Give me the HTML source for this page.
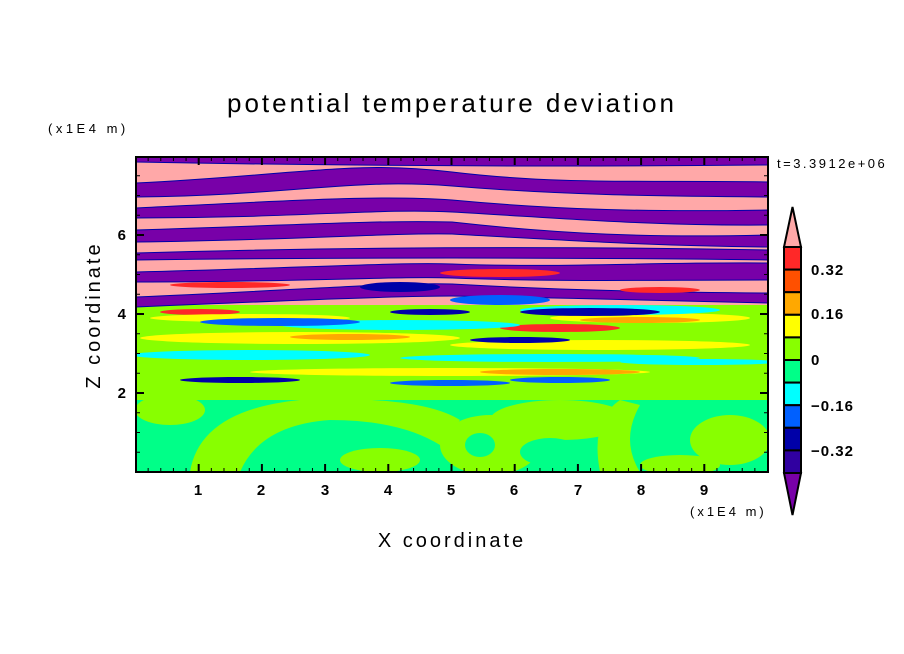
<!DOCTYPE html>
<html><head><meta charset="utf-8"><style>
body{margin:0;background:#fff;}
svg{display:block;font-family:"Liberation Sans",sans-serif;}
</style></head><body>
<svg id="s" width="904" height="654" viewBox="0 0 904 654" xmlns="http://www.w3.org/2000/svg">
<defs><clipPath id="c"><rect x="136" y="157" width="632" height="315"/></clipPath></defs>
<g clip-path="url(#c)">
<rect x="136" y="157" width="632" height="160" fill="#ffa8a8"/>
<rect x="136" y="305" width="632" height="90" fill="#88ff00"/>
<rect x="136" y="392" width="632" height="81" fill="#00ff88"/>
<g fill="#7800a8" stroke="#0000a8" stroke-width="1">
<path d="M136,155 L768,155 L768,165 Q452,168 136,162 Z"/>
<path d="M136,183 C300,175 350,160 452,172 C560,185 650,180 768,182 L768,197 C650,196 560,195 452,186 C350,178 300,195 136,197 Z"/>
<path d="M136,208 C300,200 380,195 452,200 C560,210 650,212 768,210 L768,225 C650,226 560,218 452,212 C380,208 300,218 136,218 Z"/>
<path d="M136,230 C300,225 380,220 452,222 C560,234 650,238 768,235 L768,247 C650,246 560,240 452,234 C380,233 300,240 136,242 Z"/>
<path d="M136,253 Q452,244 768,250 L768,260 Q452,256 136,260 Z"/>
<path d="M136,272 C300,268 400,262 452,264 C560,268 650,262 768,263 L768,280 C650,280 560,282 452,278 C400,276 300,282 136,282 Z"/>
<path d="M136,297 C300,290 400,282 452,284 C560,290 650,292 768,293 L768,303 C650,300 560,298 452,296 C400,296 300,300 136,307 Z"/>
</g>
<g fill="#ff2828">
<ellipse cx="230" cy="285" rx="60" ry="3"/><ellipse cx="500" cy="273" rx="60" ry="4"/>
<ellipse cx="560" cy="328" rx="60" ry="4"/><ellipse cx="200" cy="312" rx="40" ry="3"/>
<ellipse cx="660" cy="290" rx="40" ry="3"/>
</g>
<g fill="#ffff00">
<ellipse cx="300" cy="338" rx="160" ry="6"/><ellipse cx="600" cy="345" rx="150" ry="5"/>
<ellipse cx="450" cy="372" rx="200" ry="4"/><ellipse cx="250" cy="318" rx="100" ry="4"/>
<ellipse cx="650" cy="318" rx="100" ry="5"/>
</g>
<g fill="#ffa800">
<ellipse cx="350" cy="337" rx="60" ry="3"/><ellipse cx="560" cy="372" rx="80" ry="3"/>
<ellipse cx="640" cy="320" rx="60" ry="3"/>
</g>
<g fill="#00ffff">
<ellipse cx="250" cy="355" rx="120" ry="5"/><ellipse cx="550" cy="358" rx="150" ry="4"/>
<ellipse cx="400" cy="325" rx="120" ry="5"/><ellipse cx="700" cy="362" rx="80" ry="3"/>
<ellipse cx="620" cy="310" rx="100" ry="5"/>
</g>
<g fill="#0060ff">
<ellipse cx="280" cy="322" rx="80" ry="4"/><ellipse cx="450" cy="383" rx="60" ry="3"/>
<ellipse cx="560" cy="380" rx="50" ry="3"/><ellipse cx="500" cy="300" rx="50" ry="5"/>
</g>
<g fill="#0000a8">
<ellipse cx="400" cy="287" rx="40" ry="5"/><ellipse cx="590" cy="312" rx="70" ry="4"/>
<ellipse cx="240" cy="380" rx="60" ry="3"/><ellipse cx="520" cy="340" rx="50" ry="3"/>
<ellipse cx="430" cy="312" rx="40" ry="3"/>
</g>
<g fill="#88ff00">
<rect x="136" y="392" width="632" height="8"/>
<ellipse cx="170" cy="410" rx="35" ry="15"/>
<path d="M190,472 Q200,410 300,400 Q420,395 460,420 L440,445 Q400,420 330,420 Q260,425 240,472 Z"/>
<ellipse cx="490" cy="445" rx="50" ry="30"/>
<ellipse cx="560" cy="420" rx="70" ry="20"/>
<path d="M600,472 Q590,420 620,400 L640,405 Q620,440 640,472 Z"/>
<ellipse cx="730" cy="440" rx="40" ry="25"/>
<ellipse cx="680" cy="465" rx="40" ry="10"/>
<ellipse cx="380" cy="460" rx="40" ry="12"/>
</g>
<g fill="#00ff88">
<ellipse cx="550" cy="452" rx="30" ry="14"/><ellipse cx="480" cy="445" rx="15" ry="12"/>
</g>
</g>
<rect x="136" y="157" width="632" height="315" fill="none" stroke="#000" stroke-width="2"/>
<g id="ticks" stroke="#000"></g>
<g font-size="15" fill="#000" text-anchor="middle" font-weight="bold">
<text x="198" y="495">1</text><text x="261" y="495">2</text><text x="325" y="495">3</text>
<text x="388" y="495">4</text><text x="451" y="495">5</text><text x="514" y="495">6</text>
<text x="578" y="495">7</text><text x="641" y="495">8</text><text x="704" y="495">9</text>
</g>
<g font-size="15" fill="#000" text-anchor="end" font-weight="bold">
<text x="126" y="398">2</text><text x="126" y="319">4</text><text x="126" y="240">6</text>
</g>
<text x="452" y="112" font-size="26" text-anchor="middle" fill="#000" letter-spacing="3">potential temperature deviation</text>
<text x="48" y="133" font-size="13" fill="#000" letter-spacing="3.5">(x1E4 m)</text>
<text x="690" y="516" font-size="13" fill="#000" letter-spacing="3">(x1E4 m)</text>
<text x="452" y="547" font-size="20" text-anchor="middle" fill="#000" letter-spacing="3">X coordinate</text>
<text x="100" y="315" font-size="20" text-anchor="middle" fill="#000" letter-spacing="3" transform="rotate(-90 100 315)">Z coordinate</text>
<text x="777" y="168" font-size="13" fill="#000" letter-spacing="2.5">t=3.3912e+06</text>
<g id="cb" stroke="#000" stroke-width="2"></g>
<g font-size="15" fill="#000" font-weight="bold" letter-spacing="1">
<text x="811" y="275">0.32</text><text x="811" y="319">0.16</text><text x="811" y="365">0</text>
<text x="811" y="411">−0.16</text><text x="811" y="456">−0.32</text>
</g>
</svg>
<script>
var ns="http://www.w3.org/2000/svg";
function el(p,t,a){var e=document.createElementNS(ns,t);for(var k in a)e.setAttribute(k,a[k]);p.appendChild(e);return e;}
var T=document.getElementById("ticks");
for(var i=1;i<50;i++){var x=135.5+i*63.2/5;var L=(i%5==0)?8:4;
el(T,"line",{x1:x,y1:472,x2:x,y2:472-L,"stroke-width":(i%5==0)?2:1});
el(T,"line",{x1:x,y1:157,x2:x,y2:157+L,"stroke-width":(i%5==0)?2:1});}
for(var j=1;j<16;j++){var y=472-j*39.5/2;var L=(j%4==0)?8:4;
el(T,"line",{x1:136,y1:y,x2:136+L,y2:y,"stroke-width":(j%4==0)?2:1});
el(T,"line",{x1:768,y1:y,x2:768-L,y2:y,"stroke-width":(j%4==0)?2:1});}
var C=document.getElementById("cb");
var cols=["#ff2828","#ff5000","#ffa800","#ffff00","#88ff00","#00ff88","#00ffff","#0060ff","#0000a8","#3000a0"];
var y0=247,h=22.6;
el(C,"polygon",{points:"784,247 801,247 792.5,207",fill:"#ffa8a8"});
for(var k=0;k<10;k++)el(C,"rect",{x:784,y:y0+k*h,width:17,height:h,fill:cols[k]});
el(C,"polygon",{points:"784,473 801,473 792.5,515",fill:"#7800a8"});
</script>
</body></html>
